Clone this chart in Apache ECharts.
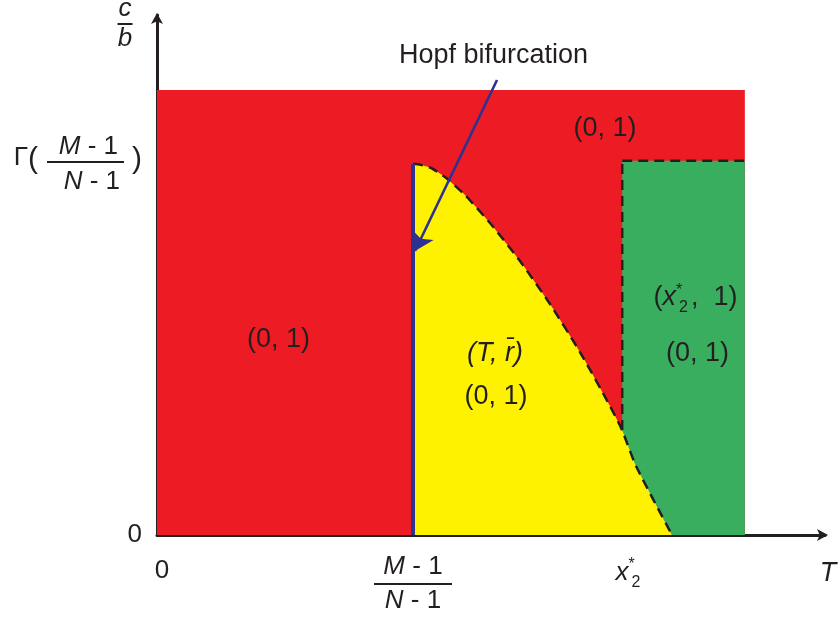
<!DOCTYPE html>
<html><head><meta charset="utf-8">
<script src="https://cdn.jsdelivr.net/npm/echarts@6/dist/echarts.min.js"></script>
<style>html,body{margin:0;padding:0;background:#fff}#c{width:838px;height:617px}</style>
</head><body><div id="c"></div>
<script>
// ---- data (axis units: T on x 0..100, c/b on y 0..100) ----
const xTickValues = [38.32, 70.51];            // (M-1)/(N-1), x2*
const xLabelValues = [0, 38.32, 70.51, 100];    // 0, (M-1)/(N-1), x2*, T
const yTickValues = [70.77];                   // Γ((M-1)/(N-1))
const yLabelValues = [0, 70.77];
const redRegion = [[0, 85.58], [88.0, 85.58]];
const greenRegion = [[69.64, 71.98], [88.0, 71.98]];
const greenLeftEdge = [[69.64, 20.19], [69.64, 71.98]];
const hopfLine = [[38.32, 0], [38.32, 71.35]];
const boundaryCurve = [[38.32,71.35],[38.62,71.35],[40.87,70.67],[43.11,68.85],[46.11,65.38],[49.85,60.0],[54.34,52.69],[58.83,44.42],[63.32,35.19],[67.81,24.81],[69.61,20.19],[71.71,13.27],[77.10,0]];
const hopfArrow = [[50.9, 87.5], [38.62, 54.62]];
const labelTexts = ['(0, 1)', '(0, 1)', '(T, r\u0304)', '(0, 1)', 'x2star', '(0, 1)', 'Hopf bifurcation'];
const labelAnchors = [[67.07, 78.17], [18.19, 37.6], [50.6, 35.0], [50.75, 26.63], [80.61, 45.58], [80.91, 34.81], [50.37, 92.12]];

const FONT = '"Liberation Sans", Arial, Helvetica, sans-serif';
const INK = '#231f20';
const RED = '#ed1c24', YELLOW = '#fff200', GREEN = '#39ae5e', BLUE = '#2e3192';
const near = (a, b) => Math.abs(a - b) < 1e-6;

const chart = echarts.init(document.getElementById('c'), null, {renderer: 'canvas'});

const dashed = {color: INK, width: 2.5, type: [10, 6]};

const regionData = labelTexts.map((t, i) => {
  let f;
  if (t === 'x2star') f = '{r|(}{rx|x}{st|*}{sb|2}{rc|,  1)}';
  else if (t.startsWith('(T')) f = '{ri|' + t + '}';
  else if (t.startsWith('Hopf')) f = '{h|' + t + '}';
  else f = '{r|' + t + '}';
  return {value: labelAnchors[i], label: {formatter: f}};
});

const option = {
  animation: false,
  textStyle: {fontFamily: FONT},
  grid: {left: 157, right: 13, top: 15, bottom: 82, containLabel: false, outerBoundsMode: 'none'},
  xAxis: {
    type: 'value', min: 0, max: 100,
    splitLine: {show: false},
    axisLine: {show: true, onZero: false, symbol: ['none', 'arrow'], symbolSize: [9, 11], symbolOffset: [0, 3], lineStyle: {color: INK, width: 3}},
    axisTick: {show: true, inside: true, length: 7, customValues: xTickValues, lineStyle: {color: INK, width: 2.5}},
    axisLabel: {
      show: true, margin: 17, customValues: xLabelValues, showMinLabel: true, showMaxLabel: true, hideOverlap: false,
      color: INK, fontFamily: FONT,
      formatter: v => {
        if (near(v, xLabelValues[0])) return '{zero|0}';
        if (near(v, xLabelValues[1])) return '{fi|M}{fm| - 1}\n{hr|}\n{fi|N}{fm| - 1}';
        if (near(v, xLabelValues[2])) return '{xi|x}{st|*}{sb|2}';
        return '{ti|T}';
      },
      rich: {
        zero: {fontSize: 26, lineHeight: 38, padding: [0, 0, 0, 10], align: 'center', color: INK, fontFamily: FONT},
        fi: {fontSize: 26, fontStyle: 'italic', lineHeight: 30, align: 'center', color: INK, fontFamily: FONT},
        fm: {fontSize: 26, lineHeight: 30, align: 'center', color: INK, fontFamily: FONT},
        hr: {width: 78, height: 0, lineHeight: 4, borderColor: INK, borderWidth: 1.8, align: 'center'},
        xi: {fontSize: 26, fontStyle: 'italic', lineHeight: 42, padding: [0, 3, 0, 0], align: 'center', color: INK, fontFamily: FONT},
        st: {fontSize: 16, lineHeight: 42, width: 0, padding: [0, 0, 16, 0], align: 'center', color: INK, fontFamily: FONT},
        sb: {fontSize: 16, lineHeight: 42, padding: [19, 0, 0, 0], align: 'center', color: INK, fontFamily: FONT},
        ti: {fontSize: 27, fontStyle: 'italic', lineHeight: 42, padding: [0, 0, 0, 6], align: 'center', color: INK, fontFamily: FONT}
      }
    }
  },
  yAxis: {
    type: 'value', min: 0, max: 100,
    splitLine: {show: false},
    axisLine: {show: true, onZero: false, symbol: ['none', 'arrow'], symbolSize: [9, 11], symbolOffset: [0, 2], lineStyle: {color: INK, width: 3}},
    axisTick: {show: true, inside: true, length: 9, customValues: yTickValues, lineStyle: {color: INK, width: 2.5}},
    axisLabel: {
      show: true, margin: 15, customValues: yLabelValues, showMinLabel: true, showMaxLabel: true, hideOverlap: false,
      color: INK, fontFamily: FONT,
      formatter: v => near(v, 0) ? '{zero|0}' :
        '{fi|M}{fm| - 1}{p1|}\n{gam|\u0393}{lp|(}{hr|}{rp|)}\n{fi|N}{fm| - 1}{p2|}',
      rich: {
        zero: {fontSize: 26, lineHeight: 30, align: 'right', color: INK, fontFamily: FONT},
        fi: {fontSize: 26, fontStyle: 'italic', lineHeight: 28, align: 'right', color: INK, fontFamily: FONT},
        fm: {fontSize: 26, lineHeight: 28, align: 'right', color: INK, fontFamily: FONT},
        p1: {width: 24, lineHeight: 28, align: 'right'},
        p2: {width: 22, lineHeight: 38, align: 'right'},
        gam: {fontSize: 26, lineHeight: 2, padding: [0, 0, 9, 0], align: 'right', color: INK, fontFamily: FONT},
        lp: {fontSize: 30, lineHeight: 2, padding: [0, 9, 4, 0], align: 'right', color: INK, fontFamily: FONT},
        hr: {width: 77, height: 0, lineHeight: 2, borderColor: INK, borderWidth: 1.8, align: 'right'},
        rp: {fontSize: 30, lineHeight: 2, padding: [0, 0, 4, 8], align: 'right', color: INK, fontFamily: FONT}
      }
    }
  },
  graphic: [{
    type: 'text', x: 125, y: 24, z: 100,
    style: {
      text: '{c|c}\n{hr|}\n{b|b}', align: 'center', verticalAlign: 'middle',
      rich: {
        c: {fontSize: 26, fontStyle: 'italic', lineHeight: 26, fill: INK, fontFamily: FONT, align: 'center'},
        hr: {width: 15, height: 0, lineHeight: 4, borderColor: INK, borderWidth: 1.8, align: 'center'},
        b: {fontSize: 26, fontStyle: 'italic', lineHeight: 26, fill: INK, fontFamily: FONT, align: 'center'}
      }
    }
  }],
  series: [
    {name: 'red', type: 'line', data: redRegion, showSymbol: false, silent: true, z: 1,
     lineStyle: {width: 0}, areaStyle: {color: RED, opacity: 1}},
    {name: 'green', type: 'line', data: greenRegion, showSymbol: false, silent: true, z: 2,
     lineStyle: dashed, areaStyle: {color: GREEN, opacity: 1}},
    {name: 'yellow', type: 'line', data: boundaryCurve, showSymbol: false, silent: true, z: 3,
     smooth: 0.2,
     lineStyle: dashed, areaStyle: {color: YELLOW, opacity: 1}},
    {name: 'greenEdge', type: 'line', data: greenLeftEdge, showSymbol: false, silent: true, z: 4,
     lineStyle: dashed},
    {name: 'hopf', type: 'line', data: hopfLine, showSymbol: false, silent: true, z: 5,
     lineStyle: {color: BLUE, width: 4},
     markLine: {
       silent: true, symbol: ['none', 'arrow'], symbolSize: 18, animation: false,
       label: {show: false},
       lineStyle: {color: BLUE, width: 2.6, type: 'solid'},
       emphasis: {disabled: true},
       data: [[{coord: hopfArrow[0]}, {coord: hopfArrow[1]}]]
     }},
    {name: 'labels', type: 'scatter', data: regionData, symbolSize: 0, silent: true, z: 6, clip: false,
     itemStyle: {opacity: 1},
     label: {
       show: true, position: 'inside', color: INK, opacity: 1, fontFamily: FONT, fontSize: 27,
       rich: {
         r: {fontSize: 27, lineHeight: 32, color: INK, fontFamily: FONT},
         ri: {fontSize: 27, fontStyle: 'italic', lineHeight: 32, color: INK, fontFamily: FONT},
         rx: {fontSize: 27, fontStyle: 'italic', lineHeight: 32, padding: [0, 3, 0, 0], color: INK, fontFamily: FONT},
         rc: {fontSize: 27, lineHeight: 32, padding: [0, 0, 0, 3], color: INK, fontFamily: FONT},
         st: {fontSize: 16, lineHeight: 32, width: 0, padding: [0, 0, 14, 0], color: INK, fontFamily: FONT},
         sb: {fontSize: 16, lineHeight: 32, padding: [20, 0, 0, 0], color: INK, fontFamily: FONT},
         h: {fontSize: 27, lineHeight: 32, color: INK, fontFamily: FONT}
       }
     }}
  ]
};
chart.setOption(option);
</script>
</body></html>
